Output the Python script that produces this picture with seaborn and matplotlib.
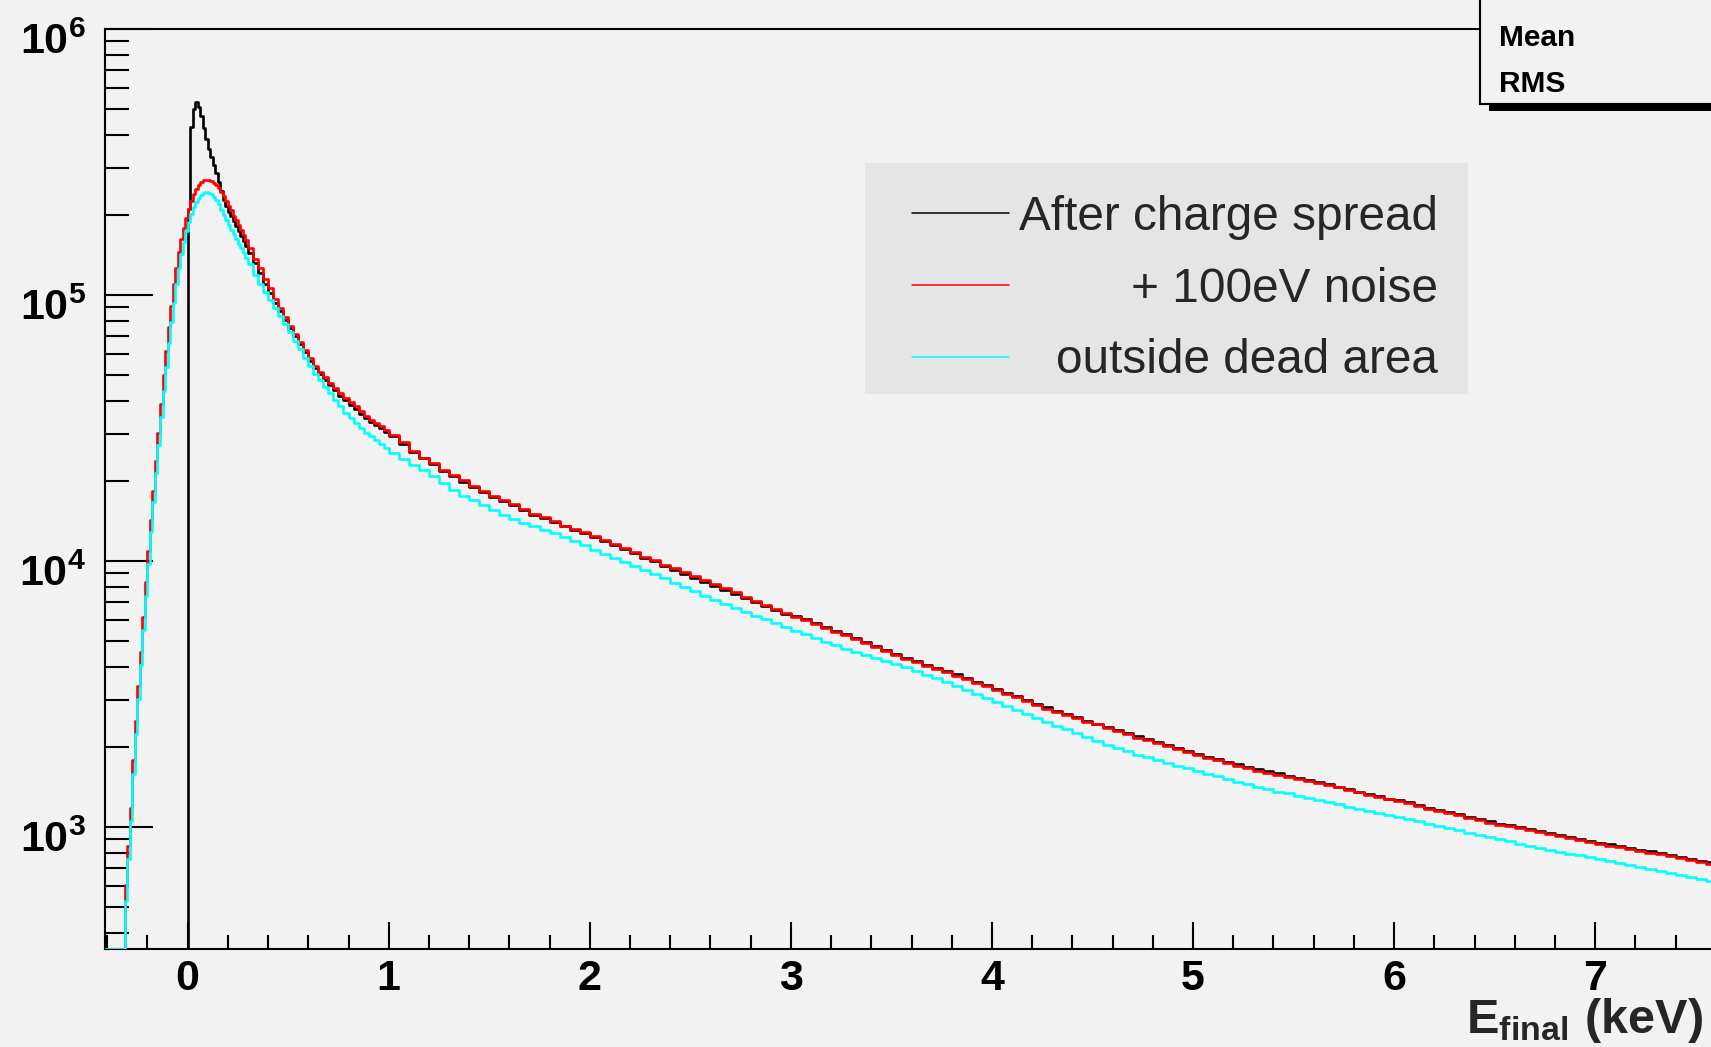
import numpy as np
import pandas as pd
import matplotlib
matplotlib.use("Agg")
import matplotlib.pyplot as plt
from matplotlib import font_manager
from matplotlib.lines import Line2D
from matplotlib.patches import Rectangle
from matplotlib.transforms import ScaledTranslation
from matplotlib.ticker import (FixedLocator, FixedFormatter, LogLocator,
                               MultipleLocator, NullFormatter, FuncFormatter)
import seaborn as sns

# ---------------------------------------------------------------------------
# Energy spectra (counts per bin).  Binning: one underflow bin below -0.325 keV,
# fine 12.5 eV bins up to 0.3 keV, 25 eV bins up to 1 keV, 50 eV bins above.
# ---------------------------------------------------------------------------
series_labels = ["After charge spread", "+ 100eV noise", "outside dead area"]
series_colors = ["#000000", "#ff0000", "#00ffff"]

underflow_counts = [0, 0, 0]          # bin [-0.45, -0.325) for each series

black_rise = [0] * 26 + [
    210000, 430000, 500000, 530000, 510000, 470000, 425000, 385000, 355000, 330000,
    308000, 287000, 265000, 245000, 228000, 216000, 206000, 198000, 189000, 181000,
    174000, 166000, 160000, 153000]
black_shoulder = [
    144000, 132000, 121000, 110000, 102000, 93100, 87300, 80900, 75200, 70000,
    65400, 60900, 56600, 53200, 50500, 48000, 45800, 43800, 41900, 40200,
    38700, 37300, 35800, 34400, 33300, 32400, 31500, 30600]
black_tail = [
    29400, 27600, 25700, 24300, 23200, 21800, 20800, 19900, 19000, 18200,
    17400, 16800, 16200, 15500, 14900, 14500, 14000, 13500, 13100, 12800,
    12300, 11900, 11500, 11100, 10700, 10300, 10000, 9600, 9290, 8970,
    8660, 8370, 8090, 7810, 7540, 7280, 7030, 6790, 6550, 6340,
    6240, 6040, 5850, 5670, 5480, 5310, 5130, 4960, 4790, 4630,
    4470, 4330, 4200, 4080, 3970, 3860, 3750, 3640, 3520, 3410,
    3300, 3200, 3100, 3000, 2910, 2820, 2740, 2670, 2590, 2510,
    2450, 2380, 2310, 2250, 2190, 2140, 2090, 2030, 1980, 1930,
    1890, 1840, 1800, 1760, 1720, 1680, 1650, 1620, 1590, 1560,
    1530, 1500, 1480, 1450, 1420, 1390, 1360, 1330, 1310, 1280,
    1260, 1240, 1210, 1180, 1160, 1140, 1120, 1090, 1070, 1050,
    1030, 1020, 1000, 983, 967, 949, 934, 917, 902, 888,
    874, 860, 847, 834, 823, 810, 797, 784, 772, 761,
    748, 736]

noise_rise = [
    316, 603, 851, 1180, 1780, 2510, 3390, 4570, 6170, 8320,
    10900, 14300, 18400, 23700, 30200, 38900, 50100, 61700, 75900, 91200,
    110000, 126000, 145000, 162000, 178000, 195000, 211000, 226000, 239000, 250000,
    260000, 266000, 270000, 271000, 270000, 268000, 264000, 259000, 252000, 244000,
    236000, 226000, 217000, 208000, 199000, 191000, 183000, 175000, 168000, 161000]
noise_shoulder = [
    150000, 137000, 126000, 115000, 106000, 97000, 89100, 82600, 76700, 71400,
    66700, 62100, 57800, 54300, 51500, 49000, 46700, 44700, 42800, 41000,
    39500, 38100, 36500, 35100, 34000, 33100, 32100, 31200]
noise_tail = [
    29700, 27900, 26000, 24500, 23400, 22000, 21000, 20100, 19200, 18400,
    17600, 17000, 16400, 15700, 15000, 14600, 14100, 13600, 13200, 12900,
    12400, 12000, 11600, 11200, 10800, 10400, 10100, 9700, 9380, 9060,
    8750, 8450, 8170, 7890, 7620, 7350, 7100, 6860, 6620, 6400,
    6180, 5980, 5790, 5610, 5430, 5260, 5080, 4910, 4740, 4580,
    4430, 4290, 4160, 4040, 3930, 3820, 3710, 3600, 3490, 3380,
    3270, 3170, 3070, 2970, 2880, 2790, 2710, 2640, 2560, 2490,
    2430, 2360, 2290, 2230, 2170, 2120, 2070, 2010, 1960, 1910,
    1870, 1820, 1780, 1740, 1700, 1660, 1630, 1600, 1570, 1540,
    1510, 1490, 1470, 1440, 1410, 1380, 1350, 1320, 1300, 1270,
    1250, 1230, 1200, 1170, 1150, 1130, 1110, 1080, 1060, 1040,
    1020, 1010, 991, 973, 957, 940, 925, 908, 893, 879,
    865, 851, 839, 826, 815, 802, 789, 776, 764, 753,
    741, 729]

outside_rise = [
    280, 525, 760, 1050, 1580, 2240, 3020, 4070, 5500, 7410,
    9770, 12900, 16600, 21400, 27200, 34700, 43600, 53700, 66100, 79400,
    93300, 109600, 126000, 143000, 158000, 174000, 188000, 202000, 214000, 224000,
    232000, 237000, 241000, 243000, 242000, 239000, 234000, 228000, 219000, 209000,
    200000, 191000, 183000, 176000, 169000, 162000, 156000, 150000, 144000, 138000]
outside_shoulder = [
    130300, 119400, 110400, 102800, 95900, 89500, 83400, 77600, 72300, 67300,
    62700, 58200, 54100, 50600, 47800, 45200, 42800, 40400, 38200, 36100,
    34400, 33000, 31600, 30400, 29400, 28400, 27500, 26700]
outside_tail = [
    25400, 24200, 22900, 21900, 20900, 19600, 18500, 17600, 16900, 16200,
    15500, 14900, 14400, 13900, 13500, 13100, 12700, 12300, 11900, 11500,
    11000, 10600, 10300, 9930, 9590, 9270, 8950, 8630, 8300, 8000,
    7690, 7410, 7160, 6920, 6680, 6440, 6240, 6040, 5850, 5660,
    5480, 5310, 5140, 4980, 4830, 4680, 4550, 4430, 4320, 4200,
    4090, 3980, 3860, 3740, 3620, 3510, 3390, 3270, 3160, 3050,
    2950, 2850, 2750, 2650, 2560, 2480, 2400, 2330, 2250, 2180,
    2110, 2040, 1980, 1930, 1870, 1830, 1780, 1740, 1700, 1660,
    1630, 1580, 1550, 1510, 1480, 1450, 1420, 1390, 1360, 1340,
    1310, 1290, 1260, 1240, 1220, 1190, 1170, 1150, 1130, 1110,
    1090, 1070, 1050, 1030, 1010, 993, 973, 953, 933, 916,
    899, 883, 867, 851, 836, 820, 807, 794, 782, 769,
    757, 745, 733, 721, 710, 697, 684, 673, 661, 649,
    638, 627]

y_tick_values = [1e3, 1e4, 1e5, 1e6]
y_tick_labels = [r"$\mathbf{10^{3}}$", r"$\mathbf{10^{4}}$",
                 r"$\mathbf{10^{5}}$", r"$\mathbf{10^{6}}$"]
stats_labels = ["Mean", "RMS"]

# ---------------------------------------------------------------------------
# Bin edges
# ---------------------------------------------------------------------------
edges = np.concatenate([
    [-0.45],
    np.linspace(-0.325, 0.3, 51),
    np.linspace(0.3, 1.0, 29)[1:],
    np.linspace(1.0, 7.6, 133)[1:],
])
centers = 0.5 * (edges[:-1] + edges[1:])

counts = [
    np.array([underflow_counts[0]] + black_rise + black_shoulder + black_tail, float),
    np.array([underflow_counts[1]] + noise_rise + noise_shoulder + noise_tail, float),
    np.array([underflow_counts[2]] + outside_rise + outside_shoulder + outside_tail, float),
]

# ---------------------------------------------------------------------------
# Style
# ---------------------------------------------------------------------------
BG = "#f2f2f2"
LEGEND_BG = "#e5e5e5"
sns.set_theme(style="ticks")
plt.rcParams.update({
    "figure.facecolor": BG,
    "axes.facecolor": BG,
    "savefig.facecolor": BG,
    "axes.edgecolor": "black",
    "font.weight": "bold",
    "mathtext.fontset": "custom",
    "mathtext.rm": "Liberation Sans:bold",
    "mathtext.bf": "Liberation Sans:bold",
    "mathtext.it": "Liberation Sans:bold:italic",
    "mathtext.sf": "Liberation Sans:bold",
})
plt.rcParams["font.family"] = ["Liberation Sans", "DejaVu Sans"]

W, H = 1711, 1047


def fx(px):
    return px / W


def fy(py):
    return 1.0 - py / H


fig = plt.figure(figsize=(W / 100, H / 100), dpi=100)
ax = fig.add_axes([fx(105), fy(949), fx(W) - fx(105), fy(29) - fy(949)])
ax.set_yscale("log")

YMIN, YMAX = 348.0, 1.0e6
XMIN, XMAX = -0.411, 7.576

for vals, color, z in zip(counts, series_colors, [3, 4, 5]):
    # empty / underflowing bins are drawn on the lower frame edge
    spectrum = pd.DataFrame({"energy": centers,
                             "counts": np.maximum(vals, YMIN)})
    sns.histplot(data=spectrum, x="energy", weights="counts",
                 bins=edges.tolist(), element="step", fill=False,
                 color=color, linewidth=1.9, ax=ax, zorder=z)

ax.set_xlim(XMIN, XMAX)
ax.set_ylim(YMIN, YMAX)
ax.set_ylabel("")

# axes frame
for side in ["left", "top", "bottom"]:
    ax.spines[side].set_linewidth(1.5)
    ax.spines[side].set_color("black")
ax.spines["right"].set_visible(False)

# ticks
ax.xaxis.set_major_locator(MultipleLocator(1))
ax.xaxis.set_minor_locator(MultipleLocator(0.2))
ax.xaxis.set_major_formatter(FuncFormatter(lambda v, _: f"{v:g}"))
ax.yaxis.set_major_locator(FixedLocator(y_tick_values))
ax.yaxis.set_major_formatter(FixedFormatter(y_tick_labels))
ax.yaxis.set_minor_locator(LogLocator(base=10, subs=np.arange(2, 10)))
ax.yaxis.set_minor_formatter(NullFormatter())

ax.tick_params(axis="both", which="both", direction="in", top=False,
               right=False, width=1.5, color="black", labelsize=31,
               labelcolor="black")
ax.tick_params(axis="y", which="major", length=34.6, pad=13.5)
ax.tick_params(axis="y", which="minor", length=17.3)
ax.tick_params(axis="x", which="major", length=19.4, pad=7)
ax.tick_params(axis="x", which="minor", length=10)
for lab in ax.get_xticklabels():
    lab.set_fontweight("bold")

# axis title
ax.set_xlabel(r"$\mathbf{E_{final}\ (keV)}$", fontsize=35, ha="right",
              va="baseline")
ax.xaxis.set_label_coords((1703 - 105) / (W - 105), (949 - 1033) / (949 - 29))

# legend: grey panel plus right-justified entries
panel = Rectangle((fx(865), fy(394)), fx(1468) - fx(865), fy(163) - fy(394),
                  transform=fig.transFigure, facecolor=LEGEND_BG,
                  edgecolor="none", zorder=9)
ax.add_artist(panel)
leg_prop = font_manager.FontProperties(family="Liberation Sans",
                                       weight="normal", size=34.4)
handles = [Line2D([], [], color=c, lw=1.1) for c in series_colors]
leg = ax.legend(handles, series_labels, loc="upper left",
                bbox_to_anchor=(fx(886), fy(168.5)), bbox_transform=fig.transFigure,
                borderaxespad=0, borderpad=0.55, handlelength=2.03,
                handletextpad=0.2, labelspacing=0.56, prop=leg_prop,
                frameon=False)
leg.set_zorder(10)

# statistics box in the upper-right corner
shadow = Rectangle((fx(1489), fy(111)), 0.3, 0.3, transform=fig.transFigure,
                   facecolor="black", edgecolor="none", zorder=5)
box = Rectangle((fx(1479.5), fy(103.5)), 0.3, 0.3, transform=fig.transFigure,
                facecolor=BG, edgecolor="black", linewidth=1.5, zorder=6)
fig.patches.extend([shadow, box])
for lab, base in zip(stats_labels, [45.7, 91.7]):
    fig.text(fx(1499), fy(base), lab, fontsize=21.5, fontweight="bold",
             va="baseline", ha="left", color="black", zorder=7)

# right-justify legend entries and lower the y tick labels a little
fig.canvas.draw()
renderer = fig.canvas.get_renderer()
texts = leg.get_texts()
widths = [t.get_window_extent(renderer).width for t in texts]
wmax = max(widths)
for t, w in zip(texts, widths):
    t.set_position((wmax - w, 0))

shift = ScaledTranslation(0, -9 / 100, fig.dpi_scale_trans)
for tick in ax.yaxis.get_major_ticks():
    tick.label1.set_transform(tick.label1.get_transform() + shift)

fig.savefig("out.png", dpi=100)
